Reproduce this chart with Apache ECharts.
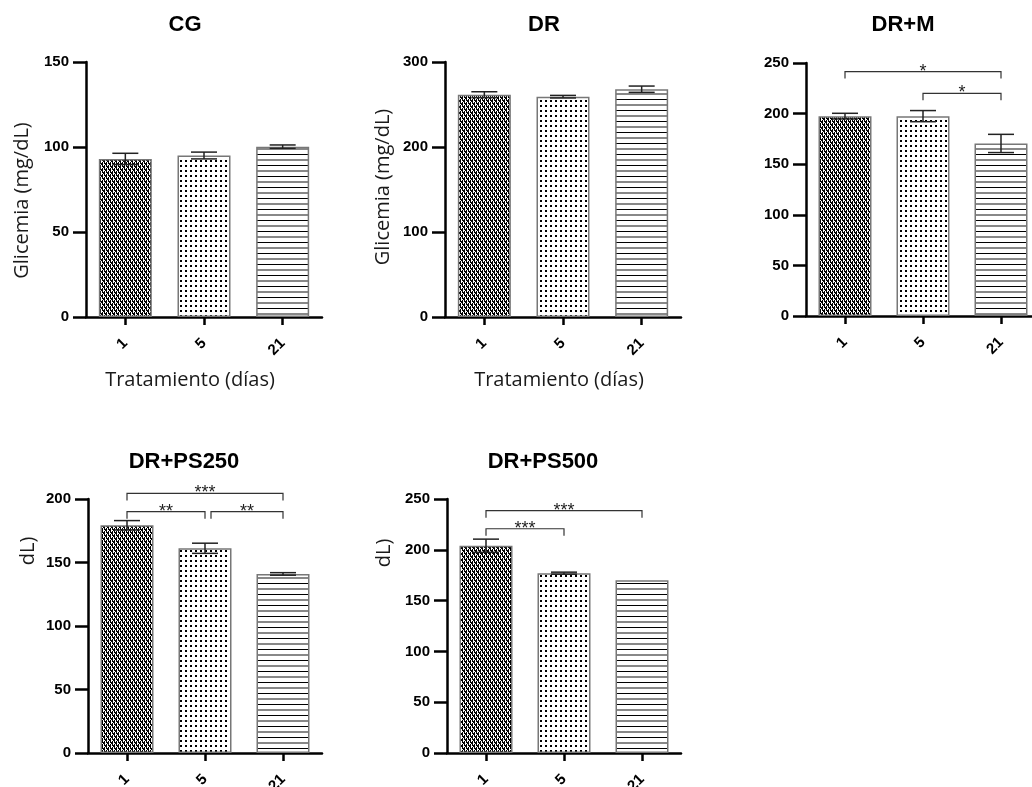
<!DOCTYPE html>
<html><head><meta charset="utf-8">
<script src="https://cdn.jsdelivr.net/npm/echarts@6/dist/echarts.min.js"></script>
<style>html,body{margin:0;padding:0;background:#fff}#c{width:1032px;height:787px}</style>
</head><body><div id="c"></div>
<script>
// ---- data ----
const categories = ['1', '5', '21'];
const titles = ['CG', 'DR', 'DR+M', 'DR+PS250', 'DR+PS500'];
const meanCG = [93, 95, 100.2];
const sdCG = [3.3, 2, 1];
const meanDR = [261.5, 259.2, 268];
const sdDR = [3.5, 1.5, 3.7];
const meanM = [197.5, 197.5, 170.5];
const sdM = [2.8, 5.5, 9];
const meanPS250 = [179.3, 161.2, 141];
const sdPS250 = [3.7, 4, 1];
const meanPS500 = [204, 177, 170];
const sdPS500 = [6.5, 1, 0];
const yMax = [150, 300, 250, 200, 250];
const yStep = [50, 100, 50, 50, 50];
const bracketsCG = [];
const bracketsDR = [];
const bracketsM = [[0, 2, 241.5, '*'], [1, 2, 220, '*']];
const bracketsPS250 = [[0, 2, 204.4, '***'], [0, 1, 190, '**'], [1, 2, 190, '**']];
const bracketsPS500 = [[0, 2, 238.5, '***'], [0, 1, 220.7, '***']];
const yName = 'Glicemia (mg/dL)';
const xName = 'Tratamiento (días)';

const means = [meanCG, meanDR, meanM, meanPS250, meanPS500];
const sds = [sdCG, sdDR, sdM, sdPS250, sdPS500];
const brackets = [bracketsCG, bracketsDR, bracketsM, bracketsPS250, bracketsPS500];

// ---- patterns ----
function makePattern(rows, w, h) {
  const c = document.createElement('canvas');
  c.width = w; c.height = h;
  const g = c.getContext('2d');
  g.fillStyle = '#fff'; g.fillRect(0, 0, w, h);
  rows.forEach((r, y) => {
    for (let x = 0; x < r.length; x++) {
      if (r[x] !== '.') { g.fillStyle = r[x] === 'g' ? '#888' : '#000'; g.fillRect(x, y, 1, 1); }
    }
  });
  return c;
}
const patHeart = makePattern([
  'X.X.X.X.',
  'XXX.XXX.',
  '.XX..XX.',
  'X.X.X.X.',
  'X.XXX.XX',
  'X..XX..X'
], 8, 6);
const patDots = makePattern([
  'XX...',
  'XX...',
  '.....',
  '.....',
  '.....'
], 5, 5);
const patLines = makePattern([
  'X', '.', '.', '.', '.', 'g', 'g', '.', '.', '.', '.'
], 1, 11);
const pats = [patHeart, patDots, patLines];

// ---- layout ----
const grids = [
  { left: 86, top: 62, width: 236, height: 255 },
  { left: 445, top: 62, width: 236, height: 255 },
  { left: 806, top: 63, width: 234, height: 253 },
  { left: 88, top: 499, width: 234, height: 254 },
  { left: 447, top: 499, width: 234, height: 254 }
].map(g => Object.assign({ outerBoundsMode: 'none', containLabel: false }, g));
const titlePos = [[185, 25], [544, 25], [903, 25], [184, 462], [543, 462]];

const tickFont = { fontSize: 15, fontWeight: 'bold', color: '#000', fontFamily: '"Liberation Sans", Arial, sans-serif' };
const axisLineStyle = { color: '#000', width: 2.5 };
const nameFont = { fontFamily: '"Open Sans", sans-serif', fontSize: 20, color: '#1a1a1a' };

const xAxes = [], yAxes = [], series = [];
grids.forEach((gr, gi) => {
  const showNames = gi < 2;
  xAxes.push({
    gridIndex: gi, type: 'category', data: categories,
    axisLine: { show: true, lineStyle: axisLineStyle },
    axisTick: { show: true, alignWithLabel: true, length: 8, lineStyle: axisLineStyle },
    axisLabel: Object.assign({ rotate: 45, margin: 24, interval: 0 }, tickFont),
    name: showNames ? xName : '', nameLocation: 'middle', nameGap: 63, nameMoveOverlap: false,
    nameTextStyle: Object.assign({ verticalAlign: 'middle', padding: gi === 0 ? [0, 28, 0, 0] : [0, 8, 0, 0] }, nameFont)
  });
  yAxes.push({
    gridIndex: gi, type: 'value', min: 0, max: yMax[gi], interval: yStep[gi],
    axisLine: { show: true, lineStyle: axisLineStyle },
    axisTick: { show: true, length: 13, lineStyle: axisLineStyle },
    splitLine: { show: false },
    axisLabel: Object.assign({ margin: 17 }, tickFont),
    name: showNames ? yName : '', nameLocation: 'middle', nameGap: gi === 0 ? 64 : 62, nameMoveOverlap: false,
    nameTextStyle: Object.assign({ verticalAlign: 'middle', padding: gi === 0 ? [0, 22, 0, 0] : [0, 0, 0, 5] }, nameFont)
  });
  series.push({
    type: 'bar', xAxisIndex: gi, yAxisIndex: gi, barWidth: 53,
    data: means[gi].map((v, i) => ({ value: v, itemStyle: { color: { image: pats[i], repeat: 'repeat' }, borderColor: '#777', borderWidth: 1.5 } })),
    silent: true, z: 2
  });
  series.push({
    type: 'custom', xAxisIndex: gi, yAxisIndex: gi, z: 5, clip: false, silent: true,
    encode: { x: 0, y: 1 },
    data: means[gi].map((m, i) => [i, m, sds[gi][i]]),
    renderItem: (params, api) => {
      const x = api.value(0), m = api.value(1), s = api.value(2);
      if (!s) return { type: 'group', children: [] };
      const t = api.coord([x, m + s]), b = api.coord([x, m - s]);
      const hw = 13, st = { stroke: '#222', lineWidth: 1.5 };
      return { type: 'group', children: [
        { type: 'line', shape: { x1: t[0], y1: t[1], x2: b[0], y2: b[1] }, style: st },
        { type: 'line', shape: { x1: t[0] - hw, y1: t[1], x2: t[0] + hw, y2: t[1] }, style: st },
        { type: 'line', shape: { x1: b[0] - hw, y1: b[1], x2: b[0] + hw, y2: b[1] }, style: st }
      ] };
    }
  });
  const brs = brackets[gi];
  if (brs.length) {
    series.push({
      type: 'custom', xAxisIndex: gi, yAxisIndex: gi, z: 6, clip: false, silent: true,
      encode: { x: 0, y: 2 },
      data: brs.map(b => [b[0], b[1], b[2]]),
      renderItem: (params, api) => {
        const f = api.value(0), t = api.value(1), lvl = api.value(2);
        const p1 = api.coord([f, lvl]), p2 = api.coord([t, lvl]);
        let x1 = p1[0];
        const x2 = p2[0], y = p1[1];
        const touches = brs.some((o, k) => k !== params.dataIndex && o[1] === f && Math.abs(o[2] - lvl) < 3);
        if (touches) x1 += 6;
        const label = brs[params.dataIndex][3];
        return { type: 'group', children: [
          { type: 'polyline', shape: { points: [[x1, y + 7], [x1, y], [x2, y], [x2, y + 7]] }, style: { stroke: '#333', lineWidth: 1.2, fill: null } },
          { type: 'text', x: (x1 + x2) / 2, y: y + 9, style: { text: label, font: '18px "Liberation Sans", Arial, sans-serif', fill: '#222', align: 'center', verticalAlign: 'bottom' } }
        ] };
      }
    });
  }
});

const graphic = titles.map((t, i) => ({
  type: 'text', x: titlePos[i][0], y: titlePos[i][1], silent: true,
  style: { text: t, font: 'bold 22px "Liberation Sans", Arial, sans-serif', fill: '#000', align: 'center', verticalAlign: 'middle' }
}));
// clipped remnants of axis names in the lower panels
[[28, 551], [384, 553]].forEach(p => graphic.push({
  type: 'text', x: p[0], y: p[1], rotation: Math.PI / 2, silent: true,
  style: { text: 'dL)', font: '20px "Open Sans", sans-serif', fill: '#1a1a1a', align: 'center', verticalAlign: 'middle' }
}));

const chart = echarts.init(document.getElementById('c'), null, { renderer: 'canvas' });
chart.setOption({
  animation: false,
  backgroundColor: '#fff',
  grid: grids,
  xAxis: xAxes,
  yAxis: yAxes,
  series: series,
  graphic: graphic
});
</script>
</body></html>
